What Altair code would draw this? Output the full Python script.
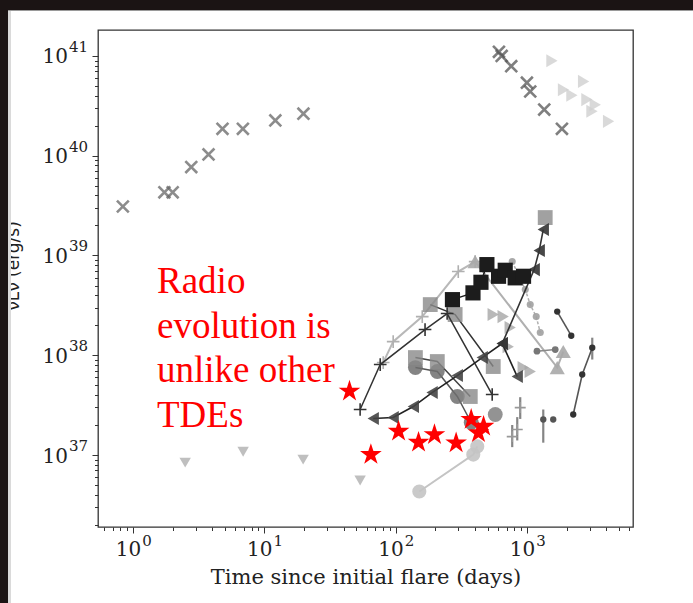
import altair as alt
import pandas as pd

# ---- radio light curves: time since flare (days) and nu L_nu (erg/s) ----
# relativistic event, early and late epochs
swj_early_t = [0.835, 1.73, 2.0, 2.77, 3.75, 4.79, 6.85, 12.1, 19.8]
swj_early_L = [3.1e39, 4.3e39, 4.3e39, 7.7e39, 1.03e40, 1.86e40, 1.86e40, 2.26e40, 2.64e40]
swj_late_t = [610, 640, 757, 996, 1056, 1350, 1841]
swj_late_L = [1.1e41, 1.0e41, 7.9e40, 5.4e40, 4.4e40, 2.9e40, 1.86e40]

# second relativistic event (late time)
rel2_t = [1545, 1893, 2193, 2692, 2853, 3118, 3303, 4170]
rel2_L = [8.97e40, 4.59e40, 4.03e40, 5.56e40, 3.65e40, 2.79e40, 3.25e40, 2.21e40]

# upper limits
ul_t = [2.49, 6.88, 19.7, 53.5]
ul_L = [8.4e36, 1.08e37, 9.0e36, 5.55e36]

# new event
new_t = [44.4, 64.6, 105, 149, 197, 288, 375, 426, 466]
new_L = [4.36e37, 1.01e37, 1.73e37, 1.34e37, 1.60e37, 1.32e37, 2.27e37, 1.67e37, 1.94e37]

# thermal TDEs
sq_black_t = [270, 387, 445, 494, 606, 681, 811, 939]
sq_black_L = [3.61e38, 4.22e38, 5.39e38, 8.10e38, 6.19e38, 7.11e38, 5.97e38, 6.19e38]

tl_dark_t = [67.3, 95.5, 136, 189, 294, 455, 646, 841]
tl_dark_L = [2.32e37, 2.38e37, 3.06e37, 4.23e37, 6.26e37, 9.48e37, 1.31e38, 6.12e37]

tl_rise_t = [646, 1132, 1236, 1327]
tl_rise_L = [1.31e38, 7.22e38, 1.12e39, 1.82e39]

sq_top_t = [1373]
sq_top_L = [2.40e39]

plus_light_t = [80.2, 95.5, 159, 299, 402]
plus_light_L = [8.45e37, 1.37e38, 2.44e38, 6.90e38, 8.69e38]

tu_light_t = [402, 1695, 1884]
tu_light_L = [8.69e38, 7.53e37, 1.09e38]

plus_dark_t = [53.5, 76.1, 167, 246, 542]
plus_dark_L = [2.86e37, 8.07e37, 1.81e38, 2.62e38, 4.04e37]

sq_gray_t = [183, 283, 552]
sq_gray_L = [3.22e38, 2.56e38, 7.71e37]

sq_gray2_t = [141, 207, 369]
sq_gray2_L = [9.48e37, 8.65e37, 3.86e37]

circ_gray_t = [141, 207, 294, 375]
circ_gray_L = [7.53e37, 6.87e37, 3.86e37, 2.12e37]

circ_mid_t = [572]
circ_mid_L = [2.55e37]

circ_light_t = [151, 389, 417]
circ_light_L = [4.31e36, 1.01e37, 1.22e37]

tr_gray_t = [552, 657, 743, 718, 934, 1056]
tr_gray_L = [2.56e38, 2.44e38, 1.90e38, 1.22e38, 7.53e37, 6.87e37]

dot_dash_t = [770, 968, 1056, 1173, 1259]
dot_dash_L = [8.69e38, 4.55e38, 3.22e38, 2.44e38, 1.69e38]

dot_mid_t = [1188, 1637]
dot_mid_L = [1.10e38, 1.14e38]

plus_gray_t = [770, 841, 886]
plus_gray_L = [1.53e37, 1.80e37, 2.99e37]

dot_far_t = [2244, 2628, 3133]
dot_far_L = [2.55e37, 6.41e37, 1.19e38]

dot_pair_t = [1695, 2168]
dot_pair_L = [2.74e38, 1.57e38]

dot_low_t = [1327, 1580]
dot_low_L = [2.27e37, 2.27e37]

# vertical error bars (time, low, high)
err_t = [1327, 3133, 770, 841, 886]
err_lo = [1.33e37, 9.06e37, 1.2e37, 1.4e37, 2.3e37]
err_hi = [2.86e37, 1.5e38, 2.0e37, 2.4e37, 3.8e37]

# axis ticks and labels
x_major = [1, 10, 100, 1000]
x_major_exp = ["0", "1", "2", "3"]
x_minor = [0.6, 0.7, 0.8, 0.9] + [m * d for d in (1, 10, 100) for m in range(2, 10)] + [2000, 3000, 4000, 5000, 6000]
y_major = [1e37, 1e38, 1e39, 1e40, 1e41]
y_major_exp = ["37", "38", "39", "40", "41"]
y_minor = [m * d for d in (1e36, 1e37, 1e38, 1e39, 1e40) for m in range(2, 10)]

W, H = 535, 497
PAD = {"left": 98, "top": 30, "right": 60, "bottom": 76}
SERIF = "DejaVu Serif"

STAR = ("M0,-1L0.2245,-0.309L0.951,-0.309L0.3633,0.118L0.5878,0.809L0,0.382"
        "L-0.5878,0.809L-0.3633,0.118L-0.951,-0.309L-0.2245,-0.309Z")
XMARK = "M-1,-1L1,1M-1,1L1,-1"
PLUS = "M-1,0L1,0M0,-1L0,1"


def size_cond(values):
    arr = ",".join(repr(v) for v in values)
    return {"condition": {"test": f"indexof([{arr}], datum.value) >= 0", "value": 6}, "value": 3.5}


common_axis = dict(tickColor="#333", tickWidth=1, domain=False, grid=False, labels=False)

x_axis = alt.Axis(
    values=sorted(x_major + x_minor), tickSize=size_cond(x_major),
    title="Time since initial flare (days)", titleFont=SERIF,
    titleFontSize=21, titleFontWeight="normal", titleColor="#222", titlePadding=33,
    **common_axis,
)
y_axis = alt.Axis(
    values=sorted(y_major + y_minor), tickSize=size_cond(y_major), title=None,
    **common_axis,
)

XS = alt.Scale(type="log", domain=[0.54, 6400], nice=False)
YS = alt.Scale(type="log", domain=[1.9e36, 1.82e41], nice=False)
X = alt.X("t:Q", scale=XS, axis=x_axis)
Y = alt.Y("L:Q", scale=YS, axis=y_axis)


def series(t, L, shape, size, fill=None, stroke=None, opacity=1.0, sw=0.0,
           line=None, lw=1.4, lop=1.0, dash=None):
    df = pd.DataFrame({"t": t, "L": L, "k": list(range(len(t)))})
    out = []
    if line:
        lkw = dict(color=line, strokeWidth=lw, opacity=lop)
        if dash:
            lkw["strokeDash"] = dash
        out.append(alt.Chart(df).mark_line(**lkw).encode(x=X, y=Y, order="k:Q"))
    kw = dict(shape=shape, size=size, opacity=opacity, strokeWidth=sw, filled=fill is not None)
    if fill:
        kw["fill"] = fill
    if stroke:
        kw["stroke"] = stroke
    out.append(alt.Chart(df).mark_point(**kw).encode(x=X, y=Y))
    return out


layers = []
err_df = pd.DataFrame({"t": err_t, "L": err_lo, "L2": err_hi})
layers.append(alt.Chart(err_df).mark_rule(color="#666", strokeWidth=2.2, opacity=0.8)
              .encode(x=X, y=Y, y2="L2:Q"))

layers += series(circ_light_t, circ_light_L, "circle", 200, fill="#c4c4c4", opacity=0.9, line="#c4c4c4", lw=2)
layers += series(ul_t, ul_L, "triangle-down", 130, fill="#b8b8b8", opacity=0.9)
layers += series(rel2_t, rel2_L, "triangle-right", 170, fill="#cfcfcf", opacity=0.8)
layers += series(swj_early_t, swj_early_L, XMARK, 140, stroke="#666", opacity=0.75, sw=2.6)
layers += series(swj_late_t, swj_late_L, XMARK, 140, stroke="#555", opacity=0.75, sw=2.6)
layers += series(dot_dash_t, dot_dash_L, "circle", 50, fill="#a0a0a0", opacity=0.9,
                 line="#b0b0b0", lw=1.5, dash=[3, 2])
layers += series(tr_gray_t, tr_gray_L, "triangle-right", 170, fill="#a6a6a6", opacity=0.8)
layers += series(plus_light_t, plus_light_L, PLUS, 160, stroke="#b0b0b0", sw=1.6, line="#b8b8b8", lw=2)
layers += series(tu_light_t, tu_light_L, "triangle-up", 230, fill="#a8a8a8", opacity=0.9,
                 line="#b0b0b0", lw=2)
layers += series(dot_mid_t, dot_mid_L, "circle", 45, fill="#777", line="#888", lw=1.5)
layers += series(plus_gray_t, plus_gray_L, PLUS, 120, stroke="#999", sw=1.6)
layers += series(circ_gray_t, circ_gray_L, "circle", 220, fill="#6e6e6e", opacity=0.85, line="#555", lw=1.5)
layers += series(circ_mid_t, circ_mid_L, "circle", 220, fill="#808080", opacity=0.85)
layers += series(sq_gray2_t, sq_gray2_L, "square", 220, fill="#8a8a8a", opacity=0.8, line="#444", lw=1.5)
layers += series(sq_gray_t, sq_gray_L, "square", 220, fill="#8a8a8a", opacity=0.8, line="#333", lw=1.5)
layers += series(sq_top_t, sq_top_L, "square", 220, fill="#8a8a8a", opacity=0.8)
layers += series(plus_dark_t, plus_dark_L, PLUS, 160, stroke="#333", sw=1.6, line="#333", lw=1.5)
layers += series(tl_dark_t, tl_dark_L, "triangle-left", 170, fill="#444", opacity=0.9, line="#222", lw=1.6)
layers += series(tl_rise_t, tl_rise_L, "triangle-left", 170, fill="#333", opacity=0.9, line="#333", lw=1.6)
layers += series(sq_black_t, sq_black_L, "square", 230, fill="#1c1c1c", line="#1c1c1c", lw=1.5)
layers += series(dot_far_t, dot_far_L, "circle", 40, fill="#333", line="#555", lw=1.6)
layers += series(dot_pair_t, dot_pair_L, "circle", 40, fill="#333", line="#555", lw=1.6)
layers += series(dot_low_t, dot_low_L, "circle", 40, fill="#555")
layers += series(new_t, new_L, STAR, 520, fill="#ff0000")

# tick labels written as 10 with a raised exponent
xlab = pd.DataFrame({"t": x_major, "e": x_major_exp})
ylab = pd.DataFrame({"L": y_major, "e": y_major_exp})
x_base = alt.Chart(xlab).mark_text(text="10", font=SERIF, fontSize=20, color="#222",
                                   align="right", baseline="alphabetic", dx=8).encode(
    x=alt.X("t:Q", scale=XS, axis=x_axis), y=alt.value(H + 29))
x_exp = alt.Chart(xlab).mark_text(font=SERIF, fontSize=15, color="#222",
                                  align="left", baseline="alphabetic", dx=9).encode(
    x=alt.X("t:Q", scale=XS, axis=x_axis), y=alt.value(H + 19), text="e:N")
y_base = alt.Chart(ylab).mark_text(text="10", font=SERIF, fontSize=20, color="#222",
                                   align="right", baseline="alphabetic", dy=7.5).encode(
    y=alt.Y("L:Q", scale=YS, axis=y_axis), x=alt.value(-30))
y_exp = alt.Chart(ylab).mark_text(font=SERIF, fontSize=15, color="#222",
                                  align="right", baseline="alphabetic", dy=-4).encode(
    y=alt.Y("L:Q", scale=YS, axis=y_axis), x=alt.value(-10), text="e:N")

one = pd.DataFrame({"a": [0]})

note = alt.Chart(one).mark_text(
    text=["Radio", "evolution is", "unlike other", "TDEs"], font="Liberation Serif",
    fontSize=37, lineHeight=44.5, color="#ff0000", align="left", baseline="alphabetic",
).encode(x=alt.value(59), y=alt.value(263))

ytitle = alt.Chart(one).mark_text(
    text="νLν (erg/s)", font="DejaVu Sans", fontSize=17, angle=270, color="#222",
    align="center", baseline="alphabetic",
).encode(x=alt.value(-79), y=alt.value(236))

# dark surround at the top and left edges
edge_left = alt.Chart(one).mark_rect(color="#1b1414").encode(
    x=alt.value(-98), x2=alt.value(-90), y=alt.value(-30), y2=alt.value(H + 76))
edge_left_rim = alt.Chart(one).mark_rect(color="#dadada").encode(
    x=alt.value(-90), x2=alt.value(-87), y=alt.value(-20), y2=alt.value(H + 76))
edge_top = alt.Chart(one).mark_rect(color="#1b1414").encode(
    x=alt.value(-98), x2=alt.value(W + 60), y=alt.value(-30), y2=alt.value(-20))
edge_line = alt.Chart(one).mark_rect(color="#9a9a9a").encode(
    x=alt.value(-90), x2=alt.value(W + 60), y=alt.value(-20), y2=alt.value(-19))

chart = alt.layer(*layers, x_base, x_exp, y_base, y_exp, note, ytitle,
                  edge_left, edge_left_rim, edge_top, edge_line).properties(
    width=W, height=H, padding=PAD,
    autosize=alt.AutoSizeParams(type="none"),
    background="white",
).configure_view(stroke="#333", strokeWidth=1.3)

chart.save("out.html", embed_options={"renderer": "svg", "actions": False})
